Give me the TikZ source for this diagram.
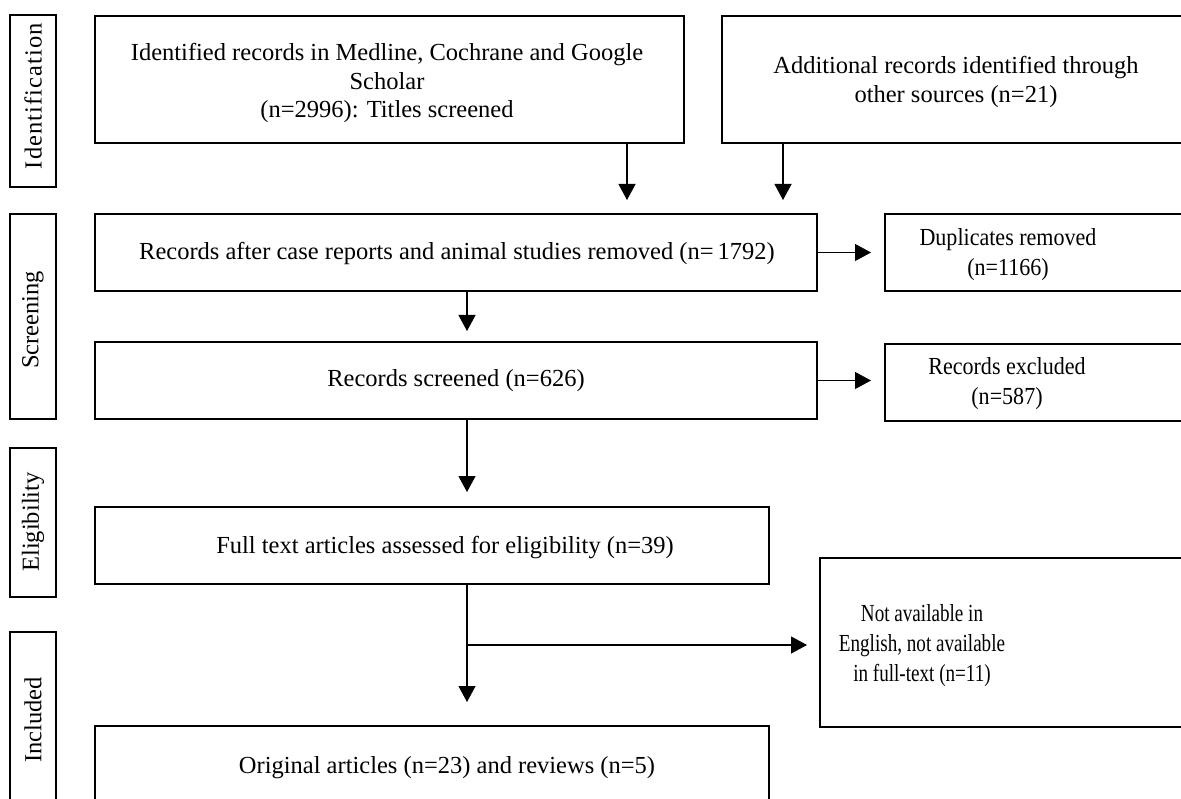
\documentclass[tikz,border=0pt]{standalone}
\usepackage{fontspec}
\setmainfont{Liberation Serif}
\newfontfamily\condA[FakeStretch=0.9]{Liberation Serif}
\newfontfamily\condB[FakeStretch=0.78]{Liberation Serif}
\newfontfamily\spaced[LetterSpace=4.5]{Liberation Serif}
\usetikzlibrary{arrows.meta}
\begin{document}
\begin{tikzpicture}[x=1pt,y=-1pt,
  box/.style={draw,line width=2pt,inner sep=0pt,minimum width=#1},
  lab/.style={draw,line width=2pt,inner sep=0pt,minimum width=46},
  txt/.style={align=center,inner sep=0pt,font=\fontsize{24.5}{28.5}\selectfont},
  arr/.style={line width=1.2pt,-{Triangle[length=16pt,width=17pt]}},
  every node/.append style={font=\fontsize{24.5}{28}\selectfont}]
\useasboundingbox (0,0) rectangle (1181,799);
\clip (0,0) rectangle (1181,799);
% phase labels
\node[lab,minimum height=172] (l1) at (33,101) {};
\node[rotate=90,inner sep=0pt,font=\spaced\fontsize{24.5}{28}\selectfont] (t1) at (33,96) {Identification};
\node[lab,minimum height=205] (l2) at (33,316.5) {};
\node[rotate=90,inner sep=0pt] (t2) at (33,320) {Screening};
\node[lab,minimum height=149] (l3) at (33,522.5) {};
\node[rotate=90,inner sep=0pt] (t3) at (33,522) {Eligibility};
\node[lab,minimum height=183] (l4) at (33,723.5) {};
\node[rotate=90,inner sep=0pt] (t4) at (33,720) {Included};
% main boxes
\node[box=589,minimum height=127] (b1) at (389.5,79.5) {};
\node[txt] (b1t) at (387,83) {Identified records in Medline, Cochrane and Google\\Scholar\\(n=2996): Titles screened};
\node[box=473,minimum height=127] (b2) at (958.5,79.5) {};
\node[txt] (b2t) at (956,82) {Additional records identified through\\other sources (n=21)};
\node[box=722,minimum height=77] (b3) at (456,252.5) {};
\node[txt] (b3t) at (457,253) {Records after case reports and animal studies removed (n=\,1792)};
\node[box=722,minimum height=77] (b4) at (456,380.5) {};
\node[txt] (b4t) at (456,381) {Records screened (n=626)};
\node[box=674,minimum height=77] (b5) at (432,545.5) {};
\node[txt] (b5t) at (445,548) {Full text articles assessed for eligibility (n=39)};
\node[box=674,minimum height=89] (b6) at (432,770.5) {};
\node[txt] (b6t) at (447,768) {Original articles (n=23) and reviews (n=5)};
% side boxes
\node[box=315,minimum height=77] (dup) at (1042.5,252.5) {};
\node[txt,font=\condA\fontsize{24.5}{30}\selectfont] (dupt) at (1008,255) {Duplicates removed\\(n=1166)};
\node[box=315,minimum height=77] (exc) at (1042.5,382.5) {};
\node[txt,font=\condA\fontsize{24.5}{30}\selectfont] (exct) at (1007,384) {Records excluded\\(n=587)};
\node[box=380,minimum height=169] (na) at (1010,642.5) {};
\node[txt,font=\condB\fontsize{24.5}{30}\selectfont] (nat) at (922,646) {Not available in\\English, not available\\in full-text (n=11)};
% connector x positions
\coordinate (x1) at (627,0);
\coordinate (x2) at (783,0);
\coordinate (xm) at (467,0);
\coordinate (br) at (467,645);
% arrows
\draw[arr,shorten >=13pt] (x1 |- b1.south) -- (x1 |- b3.north);
\draw[arr,shorten >=13pt] (x2 |- b2.south) -- (x2 |- b3.north);
\draw[arr,shorten >=13pt] (b3.east) -- (b3.east -| dup.west);
\draw[arr,shorten >=10pt] (xm |- b3.south) -- (xm |- b4.north);
\draw[arr,shorten >=13pt] (b4.east) -- (b4.east -| exc.west);
\draw[arr,shorten >=14pt] (xm |- b4.south) -- (xm |- b5.north);
\draw[arr,shorten >=23pt] (xm |- b5.south) -- (xm |- b6.north);
\draw[arr,shorten >=12pt] (br) -- (br -| na.west);
\end{tikzpicture}
\end{document}
